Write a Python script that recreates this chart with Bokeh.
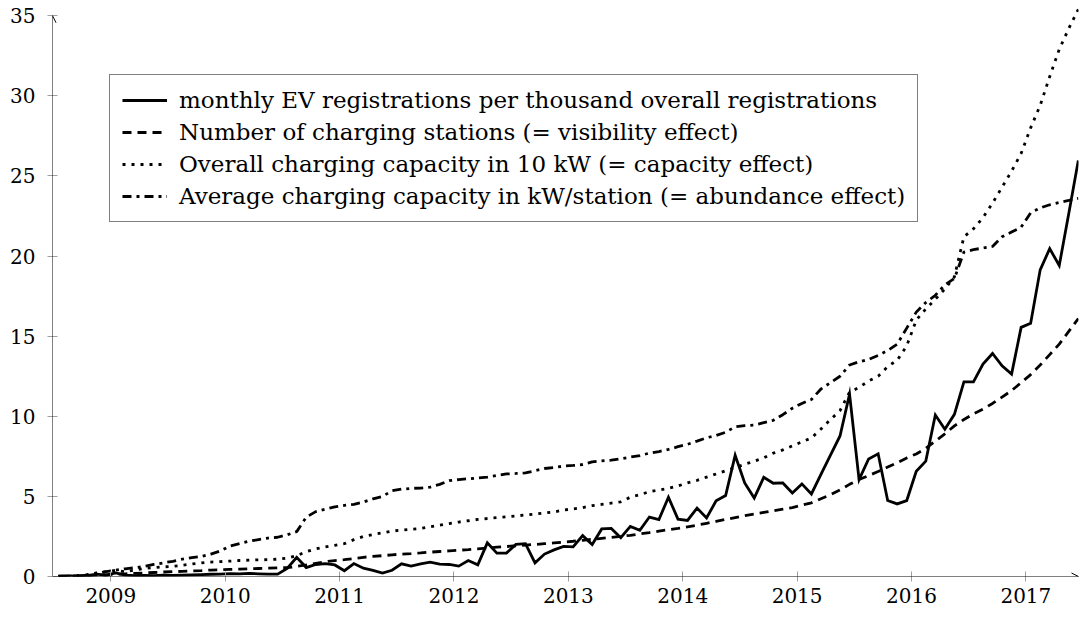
from bokeh.plotting import figure
from bokeh.models import (Range1d, FixedTicker, Legend, LegendItem, Arrow,
                          OpenHead, ColumnDataSource)
from bokeh.embed import file_html
from bokeh.resources import INLINE

# ---------------- data (monthly, July 2008 - June 2017) ----------------
first_year = 2008
first_month = 7

ev = [0.02, 0.03, 0.03, 0.05, 0.15, 0.08, 0.22, 0.08, 0.06, 0.07, 0.06, 0.08,
      0.07, 0.09, 0.10, 0.12, 0.14, 0.15, 0.18, 0.16, 0.20, 0.17, 0.15, 0.15,
      0.50, 1.20, 0.56, 0.75, 0.80, 0.72, 0.36, 0.81, 0.52, 0.38, 0.21, 0.39,
      0.79, 0.65, 0.79, 0.90, 0.77, 0.75, 0.65, 1.00, 0.73, 2.10, 1.46, 1.46,
      2.00, 2.05, 0.85, 1.40, 1.66, 1.88, 1.85, 2.55, 2.00, 2.97, 3.00, 2.42,
      3.13, 2.88, 3.71, 3.55, 4.95, 3.58, 3.50, 4.27, 3.65, 4.73, 5.05, 7.57,
      5.84, 4.90, 6.19, 5.82, 5.84, 5.21, 5.78, 5.15, 6.37, 7.57, 8.77, 11.38,
      6.05, 7.34, 7.66, 4.74, 4.53, 4.74, 6.57, 7.20, 10.08, 9.19, 10.12, 12.15,
      12.15, 13.26, 13.92, 13.15, 12.63, 15.55, 15.80, 19.14, 20.46, 19.41, 22.65, 25.97]

stations = [0.02, 0.02, 0.03, 0.05, 0.08, 0.10, 0.14, 0.17, 0.20, 0.22, 0.25, 0.28,
            0.30, 0.32, 0.35, 0.37, 0.40, 0.42, 0.44, 0.46, 0.48, 0.50, 0.52, 0.54,
            0.55, 0.63, 0.72, 0.82, 0.92, 0.99, 1.05, 1.12, 1.20, 1.25, 1.30, 1.35,
            1.40, 1.43, 1.47, 1.52, 1.56, 1.60, 1.64, 1.68, 1.73, 1.78, 1.83, 1.87,
            1.92, 1.96, 2.00, 2.05, 2.10, 2.15, 2.20, 2.26, 2.32, 2.38, 2.44, 2.51,
            2.57, 2.66, 2.74, 2.83, 2.92, 3.00, 3.10, 3.20, 3.32, 3.44, 3.56, 3.68,
            3.80, 3.90, 4.00, 4.10, 4.20, 4.30, 4.45, 4.60, 4.85, 5.10, 5.40, 5.75,
            6.05, 6.30, 6.55, 6.83, 7.10, 7.40, 7.65, 8.00, 8.45, 8.90, 9.40, 9.80,
            10.15, 10.45, 10.80, 11.20, 11.60, 12.10, 12.60, 13.20, 13.85, 14.50, 15.30, 16.10]

capacity = [0.00, 0.02, 0.05, 0.12, 0.22, 0.30, 0.38, 0.30, 0.40, 0.50, 0.55, 0.60,
            0.63, 0.70, 0.78, 0.85, 0.90, 0.93, 0.96, 1.00, 1.02, 1.04, 1.05, 1.08,
            1.15, 1.30, 1.55, 1.72, 1.85, 1.95, 2.05, 2.30, 2.50, 2.62, 2.72, 2.83,
            2.90, 2.95, 3.00, 3.10, 3.20, 3.30, 3.40, 3.48, 3.56, 3.62, 3.68, 3.73,
            3.78, 3.84, 3.90, 3.96, 4.03, 4.15, 4.22, 4.30, 4.42, 4.50, 4.58, 4.66,
            4.95, 5.10, 5.30, 5.40, 5.50, 5.65, 5.84, 6.00, 6.20, 6.40, 6.60, 6.80,
            7.00, 7.20, 7.40, 7.70, 7.90, 8.15, 8.40, 8.65, 9.20, 9.80, 10.35, 11.50,
            11.80, 12.20, 12.50, 13.10, 13.50, 14.40, 16.00, 16.70, 17.30, 17.95, 18.70, 21.20,
            21.70, 22.40, 23.30, 24.30, 25.30, 26.40, 28.00, 29.40, 31.20, 32.90, 34.20, 35.40]

abundance = [0.00, 0.00, 0.02, 0.08, 0.20, 0.30, 0.40, 0.48, 0.55, 0.63, 0.75, 0.85,
             0.95, 1.08, 1.18, 1.25, 1.40, 1.60, 1.90, 2.05, 2.20, 2.30, 2.40, 2.45,
             2.60, 2.80, 3.70, 4.05, 4.20, 4.35, 4.44, 4.50, 4.65, 4.85, 5.00, 5.35,
             5.45, 5.50, 5.52, 5.58, 5.75, 5.98, 6.05, 6.10, 6.15, 6.20, 6.30, 6.40,
             6.43, 6.47, 6.60, 6.74, 6.80, 6.89, 6.93, 6.99, 7.15, 7.22, 7.26, 7.35,
             7.45, 7.55, 7.70, 7.80, 7.93, 8.10, 8.25, 8.45, 8.66, 8.80, 9.00, 9.35,
             9.42, 9.45, 9.60, 9.75, 10.10, 10.50, 10.80, 11.05, 11.70, 12.10, 12.50, 13.20,
             13.40, 13.55, 13.80, 14.10, 14.50, 15.50, 16.50, 17.10, 17.55, 18.20, 18.60, 20.25,
             20.40, 20.50, 20.60, 21.20, 21.50, 21.80, 22.70, 23.00, 23.20, 23.35, 23.47, 23.60]

year_ticks = [2009, 2010, 2011, 2012, 2013, 2014, 2015, 2016, 2017]
y_ticks = [0, 5, 10, 15, 20, 25, 30, 35]

labels = [
    "monthly EV registrations per thousand overall registrations",
    "Number of charging stations (= visibility effect)",
    "Overall charging capacity in 10 kW (= capacity effect)",
    "Average charging capacity in kW/station (= abundance effect)",
]

# ---------------- figure ----------------
x_min, x_max = 2008.49, 2017.46
y_min, y_max = 0, 35.45
y_axis_top = 35

x = [first_year + (first_month - 1 + k + 0.5) / 12.0 for k in range(len(ev))]
src = ColumnDataSource(dict(x=x, ev=ev, stations=stations,
                            capacity=capacity, abundance=abundance))

p = figure(width=1080, height=619, output_backend="svg", toolbar_location=None,
           x_range=Range1d(x_min, x_max), y_range=Range1d(y_min, y_max),
           min_border_left=52, min_border_right=2, min_border_top=8,
           min_border_bottom=43)
p.outline_line_color = None
p.background_fill_color = "white"
p.border_fill_color = "white"
p.xgrid.visible = False
p.ygrid.visible = False

for ax in (p.xaxis[0], p.yaxis[0]):
    ax.axis_line_color = None
    ax.major_tick_in = 5
    ax.major_tick_out = 5
    ax.major_tick_line_color = "#a0a0a0"
    ax.major_tick_line_width = 1
    ax.minor_tick_line_color = None
    ax.major_label_text_font = "DejaVu Serif"
    ax.major_label_text_font_size = "20px"
    ax.major_label_text_color = "black"

p.xaxis.ticker = FixedTicker(ticks=year_ticks)
p.yaxis.ticker = FixedTicker(ticks=y_ticks)
p.xaxis.major_label_overrides = {t: str(t) for t in year_ticks}
p.xaxis.major_label_standoff = 6
p.yaxis.major_label_standoff = 12

lw = 2.8
r1 = p.line("x", "ev", source=src, line_color="black", line_width=lw,
            line_join="miter")
r2 = p.line("x", "stations", source=src, line_color="black", line_width=lw,
            line_dash="9 6")
r3 = p.line("x", "capacity", source=src, line_color="black", line_width=lw,
            line_dash="3 6")
r4 = p.line("x", "abundance", source=src, line_color="black", line_width=lw,
            line_dash="9 5 3 5")

# axis lines with arrow heads
p.add_layout(Arrow(end=OpenHead(size=7, line_width=1, line_color="black"),
                   x_start=x_min, y_start=0, x_end=x_max, y_end=0,
                   line_color="black", line_width=1))
p.add_layout(Arrow(end=OpenHead(size=7, line_width=1, line_color="black"),
                   x_start=x_min, y_start=0, x_end=x_min, y_end=y_axis_top,
                   line_color="black", line_width=1))

legend = Legend(
    items=[LegendItem(label=labels[0], renderers=[r1]),
           LegendItem(label=labels[1], renderers=[r2]),
           LegendItem(label=labels[2], renderers=[r3]),
           LegendItem(label=labels[3], renderers=[r4])],
    location=(57, 354), orientation="vertical",
    label_text_font="DejaVu Serif", label_text_font_size="23px",
    label_text_color="black",
    glyph_width=45, glyph_height=26, label_height=26, label_standoff=12,
    spacing=6, padding=12, margin=0,
    border_line_color="black", border_line_width=1,
    background_fill_color="white", background_fill_alpha=1.0)
p.add_layout(legend)

open("out.html", "w").write(file_html(p, INLINE))
